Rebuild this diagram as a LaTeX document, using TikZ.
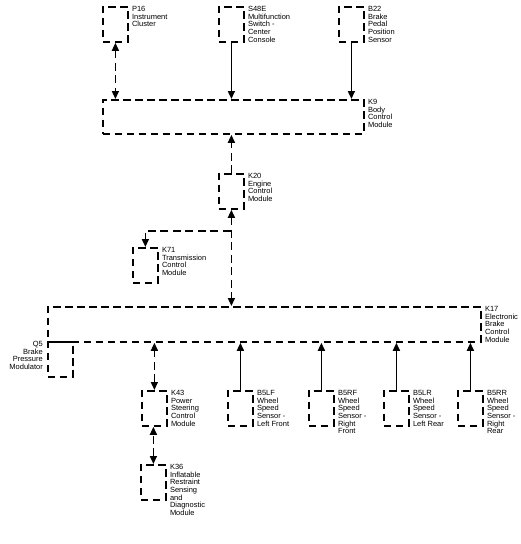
\documentclass[tikz,border=0pt]{standalone}
\usepackage{fontspec}
\setmainfont{Liberation Sans}
\usetikzlibrary{arrows.meta, positioning}

\begin{document}
\begin{tikzpicture}[
  x=1pt, y=-1pt,
  box/.style={draw, line width=1.8pt, dash pattern=on 7.5pt off 4.5pt, minimum width=25pt, minimum height=35pt, anchor=north west, inner sep=0pt},
  txt/.style={font=\fontsize{7.5}{7.7}\selectfont, align=left, inner sep=0pt, anchor=north west},
  sig/.style={line width=1.6pt, -{Triangle[length=8pt,width=7pt]}},
  bus/.style={sig, dash pattern=on 8pt off 4.5pt},
  >={Triangle[length=8pt,width=7pt]}
]
\useasboundingbox (0,0) rectangle (520,544);

% inputs to body control module
\node[box] (p16)  at (102,6) {};
\node[box] (s48e) at (218,6) {};
\node[box] (b22)  at (338,6) {};
\node[box, minimum width=261pt, minimum height=34pt] (k9) at (102,99) {};

\node[right=3pt of p16.north east, txt]  (p16t)  {P16\\Instrument\\Cluster};
\node[right=3pt of s48e.north east, txt] (s48et) {S48E\\Multifunction\\Switch -\\Center\\Console};
\node[right=3pt of b22.north east, txt]  (b22t)  {B22\\Brake\\Pedal\\Position\\Sensor};
\node[right=3pt of k9.north east, txt]   (k9t)   {K9\\Body\\Control\\Module};

% engine / transmission
\node[box] (k20) at (218,173) {};
\node[box] (k71) at (132,247) {};
\node[right=3pt of k20.north east, txt] (k20t) {K20\\Engine\\Control\\Module};
\node[right=3pt of k71.north east, txt] (k71t) {K71\\Transmission\\Control\\Module};

% brake control
\node[box, minimum width=433pt] (k17) at (47,306) {};
\node[box] (q5) at (47,341) {};
\node[right=3pt of k17.north east, txt] (k17t) {K17\\Electronic\\Brake\\Control\\Module};
\node[left=4pt of q5.north west, txt, anchor=north east, align=right] (q5t) {Q5\\Brake\\Pressure\\Modulator};

% lower row
\node[box] (k43)  at (141,390) {};
\node[box] (k36)  at (140,464) {};
\node[box] (b5lf) at (227,390) {};
\node[box] (b5rf) at (308,390) {};
\node[box] (b5lr) at (383,390) {};
\node[box] (b5rr) at (457,390) {};
\node[right=3pt of k43.north east, txt]  (k43t)  {K43\\Power\\Steering\\Control\\Module};
\node[right=3pt of k36.north east, txt]  (k36t)  {K36\\Inflatable\\Restraint\\Sensing\\and\\Diagnostic\\Module};
\node[right=3pt of b5lf.north east, txt] (b5lft) {B5LF\\Wheel\\Speed\\Sensor -\\Left Front};
\node[right=3pt of b5rf.north east, txt] (b5rft) {B5RF\\Wheel\\Speed\\Sensor -\\Right\\Front};
\node[right=3pt of b5lr.north east, txt] (b5lrt) {B5LR\\Wheel\\Speed\\Sensor -\\Left Rear};
\node[right=3pt of b5rr.north east, txt] (b5rrt) {B5RR\\Wheel\\Speed\\Sensor -\\Right\\Rear};

\coordinate (tap) at (230.5,231);

\draw[bus, <->] (p16.south) -- (p16.south |- k9.north);
\draw[sig] (s48e.south) -- (s48e.south |- k9.north);
\draw[sig] (b22.south) -- (b22.south |- k9.north);
\draw[bus] (k20.north) -- (k20.north |- k9.south);
\draw[bus, <->] (k20.south) -- (k20.south |- k17.north);
\draw[bus] (tap) -| (k71.north);
\draw[bus, <->] (k43.north) -- (k43.north |- k17.south);
\draw[bus, <->] (k36.north) -- (k36.north |- k43.south);
\draw[sig] (b5lf.north) -- (b5lf.north |- k17.south);
\draw[sig] (b5rf.north) -- (b5rf.north |- k17.south);
\draw[sig] (b5lr.north) -- (b5lr.north |- k17.south);
\draw[sig] (b5rr.north) -- (b5rr.north |- k17.south);
\end{tikzpicture}
\end{document}
